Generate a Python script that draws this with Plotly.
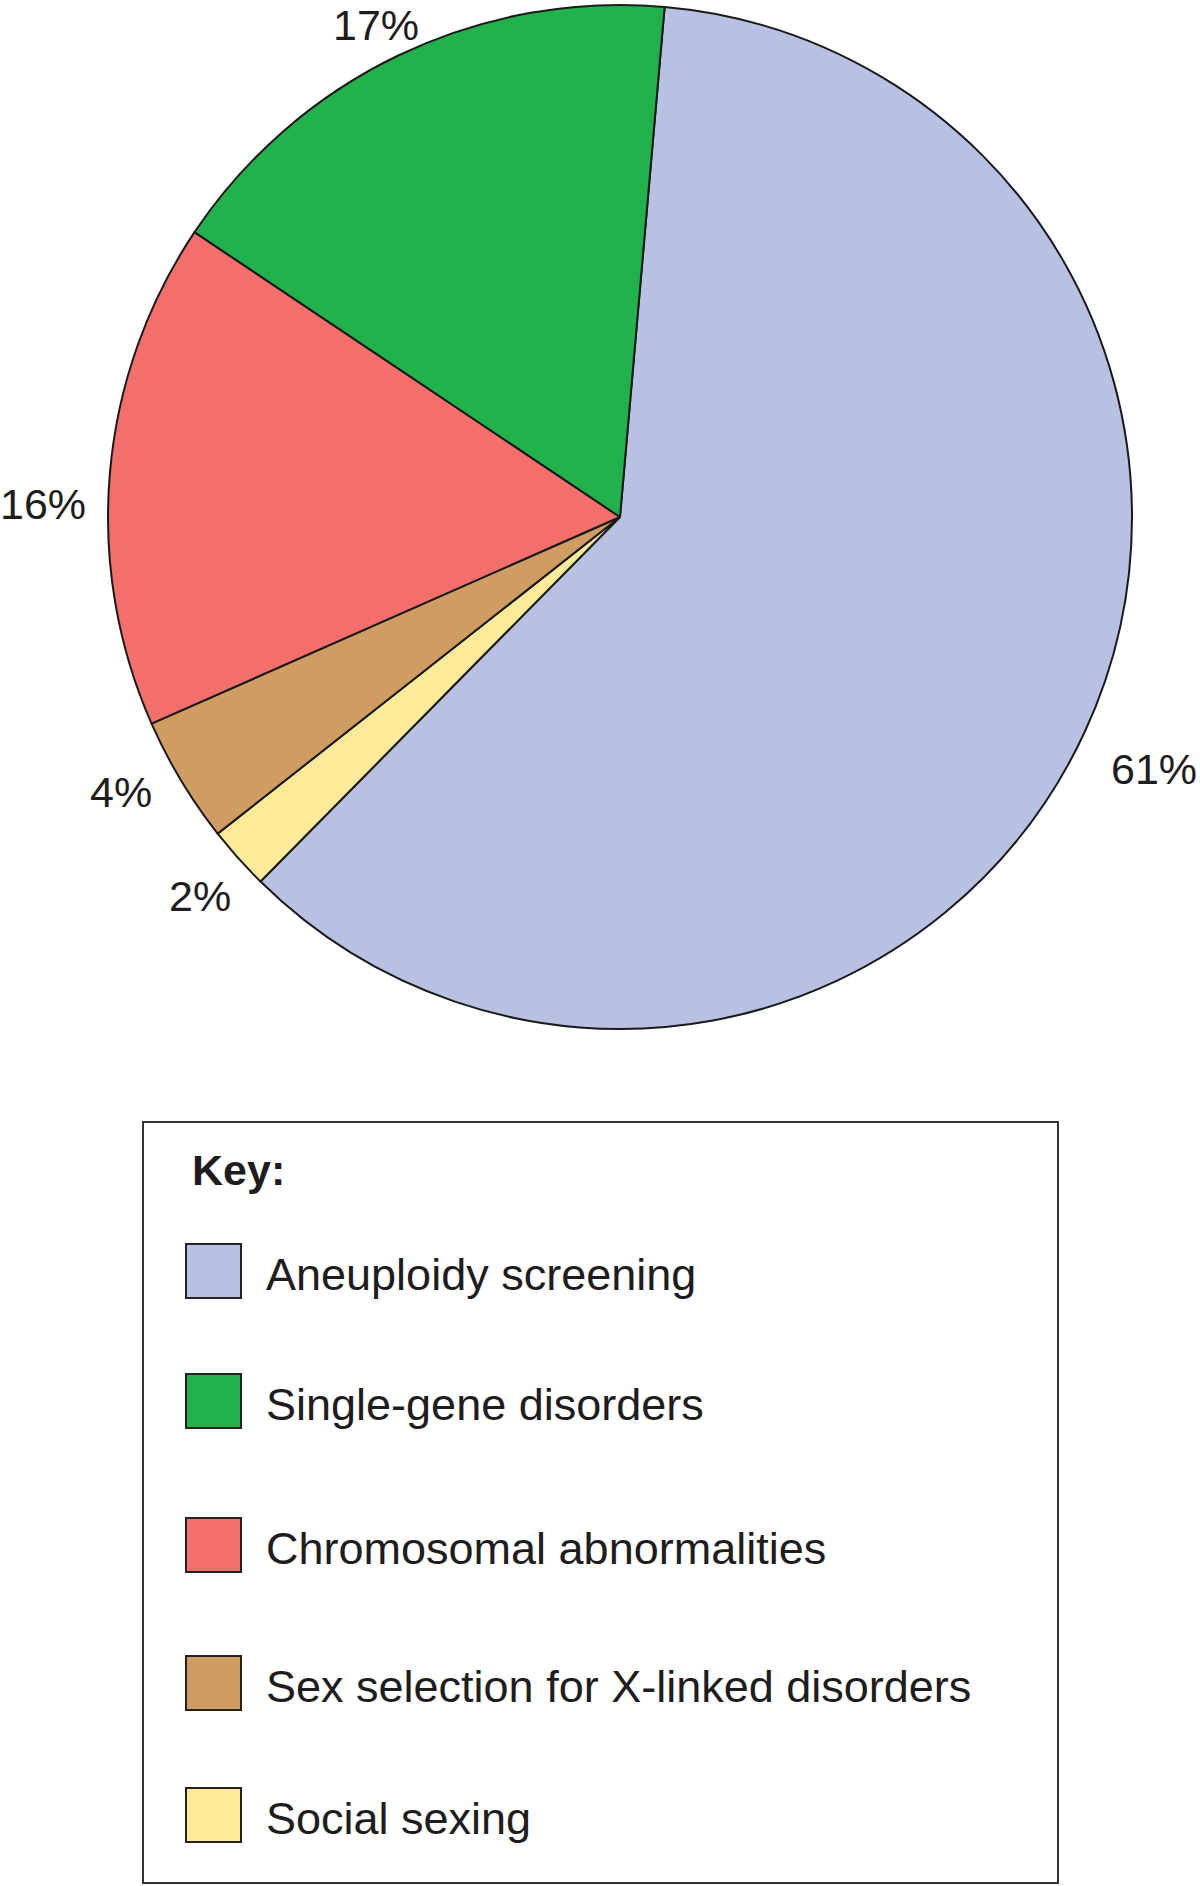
import plotly.graph_objects as go

# ---- data (legend order) ----
categories = ["Aneuploidy screening", "Single-gene disorders", "Chromosomal abnormalities",
              "Sex selection for X-linked disorders", "Social sexing"]
values = [61, 17, 16, 4, 2]
colors = ["#b9c1e3", "#22b24b", "#f36f6b", "#cf9d62", "#feea98"]
# order in which slices run clockwise from the top
pie_order = [0, 4, 3, 2, 1]

W, H = 1200, 1886
FONT = "Liberation Sans, Arial, Helvetica, sans-serif"
TXT = "#1e1c1d"


def px(x):
    return x / W


def py(y):
    return 1 - y / H


fig = go.Figure()
fig.add_trace(go.Pie(
    labels=[categories[i] for i in pie_order],
    values=[values[i] for i in pie_order],
    marker=dict(colors=[colors[i] for i in pie_order], line=dict(color="#1a1a1a", width=2)),
    sort=False,
    direction="clockwise",
    rotation=5,
    textinfo="none",
    hoverinfo="label+percent",
    showlegend=False,
    domain=dict(x=[px(108), px(1132)], y=[py(1029), py(5)]),
))

# percentage labels (text from values), placed around the pie
label_pos = {0: (1154, 767), 1: (376, None), 2: (43, 502), 3: (121, 790), 4: (200, 894)}
annotations = []
for i, v in enumerate(values):
    x, y = label_pos[i]
    if y is None:
        yy, anchor = 1.0, "top"
    else:
        yy, anchor = py(y + 2), "middle"
    annotations.append(dict(x=px(x), y=yy, xref="paper", yref="paper", text=f"{v}%",
                            showarrow=False, xanchor="center", yanchor=anchor, borderpad=0,
                            font=dict(family=FONT, size=43, color=TXT)))

shapes = []
# key box
shapes.append(dict(type="rect", xref="paper", yref="paper", x0=px(143), x1=px(1058), y0=py(1883), y1=py(1122),
                   line=dict(color="#333333", width=2), fillcolor="rgba(0,0,0,0)"))
annotations.append(dict(x=px(190), y=py(1170), xref="paper", yref="paper", text="<b>Key:</b>",
                        showarrow=False, xanchor="left", yanchor="middle",
                        font=dict(family=FONT, size=43, color=TXT)))

row_y = [1271, 1401, 1545, 1683, 1815]
for i, cat in enumerate(categories):
    yc = row_y[i]
    shapes.append(dict(type="rect", xref="paper", yref="paper", x0=px(186), x1=px(241),
                       y0=py(yc + 27), y1=py(yc - 27), fillcolor=colors[i],
                       line=dict(color="#222222", width=2)))
    annotations.append(dict(x=px(264), y=py(yc + 3), xref="paper", yref="paper", text=cat,
                            showarrow=False, xanchor="left", yanchor="middle",
                            font=dict(family=FONT, size=45, color=TXT)))

fig.update_layout(
    width=W, height=H,
    margin=dict(l=0, r=0, t=0, b=0),
    paper_bgcolor="white", plot_bgcolor="white",
    shapes=shapes, annotations=annotations,
)
fig.write_html("out.html", config={"displayModeBar": False},
               post_script="document.body.style.margin='0';document.body.style.overflow='hidden';")
